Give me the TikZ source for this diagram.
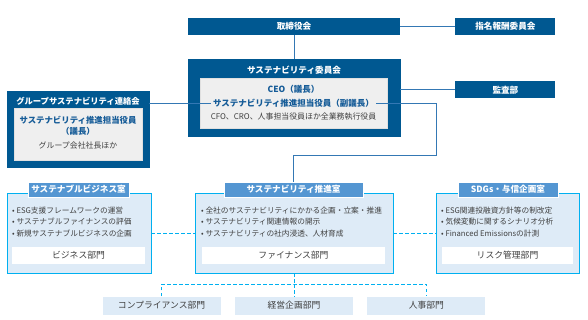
\documentclass[tikz,border=0pt]{standalone}
\usepackage{fontspec}
\setmainfont{Noto Sans CJK JP}
\usepackage{tikz}
\usetikzlibrary{positioning}
\definecolor{navy}{RGB}{0,88,145}
\definecolor{navytxt}{RGB}{22,92,152}
\definecolor{linkblue}{RGB}{52,120,180}
\definecolor{tabblue}{RGB}{84,150,210}
\definecolor{paleblue}{RGB}{222,235,247}
\definecolor{cyanline}{RGB}{0,176,240}
\definecolor{graytxt}{RGB}{64,64,64}
\definecolor{innergray}{RGB}{239,239,239}

\begin{document}
\begin{tikzpicture}[x=1pt, y=-1pt, inner sep=0pt, font=\fontsize{8.5}{10}\selectfont]
\tikzstyle{hdr}=[fill=navy, text=white, font=\fontsize{8.6}{10}\selectfont\bfseries, minimum height=17pt]
\tikzstyle{panel}=[fill=navy, draw=navy]
\tikzstyle{ptitle}=[text=white, font=\fontsize{8.6}{10}\selectfont\bfseries]
\tikzstyle{core}=[fill=innergray, draw=black!12]
\tikzstyle{lead}=[text=navytxt, font=\fontsize{8.5}{11}\selectfont\bfseries, align=center, inner xsep=2pt]
\tikzstyle{note}=[text=graytxt, font=\fontsize{7.9}{10}\selectfont]
\tikzstyle{room}=[fill=paleblue, draw=cyanline, line width=0.8pt, minimum height=80pt]
\tikzstyle{tab}=[fill=tabblue, draw=white, line width=0.8pt, text=white, font=\fontsize{8.6}{10}\selectfont\bfseries, minimum height=15pt]
\tikzstyle{bul}=[anchor=west, align=left, text=graytxt, font=\fontsize{7.7}{11.5}\selectfont]
\tikzstyle{unit}=[fill=white, text=graytxt, minimum height=17pt, font=\fontsize{8.8}{10}\selectfont]
\tikzstyle{dept}=[fill=paleblue, text=graytxt, minimum height=18pt, minimum width=118pt, font=\fontsize{8.8}{10}\selectfont]
\tikzstyle{link}=[draw=linkblue, line width=0.9pt]
\tikzstyle{dotlink}=[draw=cyanline, line width=0.7pt, dash pattern=on 3.5pt off 2.5pt]
\useasboundingbox (0,0) rectangle (588,320);

% board level
\node[hdr, minimum width=212pt] (board) at (294,26.5) {取締役会};
\node[hdr, minimum width=100pt, right=55pt of board] (nomcom) {指名報酬委員会};
\node[hdr, minimum width=100pt, below=46pt of nomcom] (audit) {監査部};

% sustainability committee
\node[panel, minimum width=212pt, minimum height=77pt] (cmte) at (294,97.5) {};
\node[ptitle] (cmtetitle) at (294,70) {サステナビリティ委員会};
\node[core, minimum width=187pt, minimum height=50pt] (cmtecore) at (293.5,103) {};
\node[lead] (chair) at (293.5,89) {CEO（議長）};
\node[lead] (vice) at (293.5,103) {サステナビリティ推進担当役員（副議長）};
\node[note] (members) at (293.5,117) {CFO、CRO、人事担当役員ほか全業務執行役員};

% group liaison
\node[panel, minimum width=142pt, minimum height=76pt] (grp) at (78,129) {};
\node[ptitle, font=\fontsize{8.3}{10}\selectfont\bfseries] (grptitle) at (78,101) {グループサステナビリティ連絡会};
\node[core, minimum width=128pt, minimum height=52pt] (grpcore) at (78,134) {};
\node[lead, font=\fontsize{8.4}{11}\selectfont\bfseries] (grplead) at (78,125.5) {サステナビリティ推進担当役員\\（議長）};
\node[note] (grpmembers) at (78,146) {グループ会社社長ほか};

% rooms
\node[room, minimum width=144pt] (biz) at (79,233) {};
\node[tab, minimum width=101pt] (biztab) at (78.5,189.5) {サステナブルビジネス室};
\node[bul] (bizlist) at (12,222) {• ESG支援フレームワークの運営\\• サステナブルファイナンスの評価\\• 新規サステナブルビジネスの企画};
\node[unit, minimum width=133pt] (bizunit) at (78.5,255.5) {ビジネス部門};

\node[room, minimum width=198pt] (promo) at (294,233) {};
\node[tab, minimum width=139pt] (promotab) at (293.5,189.5) {サステナビリティ推進室};
\node[bul] (promolist) at (201,222) {• 全社のサステナビリティにかかる企画・立案・推進\\• サステナビリティ関連情報の開示\\• サステナビリティの社内浸透、人材育成};
\node[unit, minimum width=183pt] (promounit) at (293.5,255.5) {ファイナンス部門};

\node[room, minimum width=143pt] (risk) at (507.5,233) {};
\node[tab, minimum width=100pt] (risktab) at (508,189.5) {SDGs・与信企画室};
\node[bul] (risklist) at (441,222) {• ESG関連投融資方針等の制改定\\• 気候変動に関するシナリオ分析\\• Financed Emissionsの計測};
\node[unit, minimum width=131pt] (riskunit) at (507.5,255.5) {リスク管理部門};

% departments
\node[dept, below=23pt of promo] (plan) {経営企画部門};
\node[dept, left=14pt of plan] (comp) {コンプライアンス部門};
\node[dept, right=14pt of plan] (hr) {人事部門};

% solid links
\draw[link] (board) -- (nomcom);
\draw[link] (board) -- (cmte);
\draw[link] (cmte.east |- audit) -- (audit);
\draw[link] (grp.east |- vice) -- (vice.west);
\coordinate (turn) at (436,155);
\draw[link] (vice.east) -| (turn) -| (promotab.north);

% dashed links
\coordinate (split) at (294,284);
\draw[dotlink] (biz) -- (promo);
\draw[dotlink] (promo) -- (risk);
\draw[dotlink] (promo.south) -- (split);
\draw[dotlink] (comp.north) |- (split) -| (hr.north);
\draw[dotlink] (split) -- (plan.north);
\end{tikzpicture}
\end{document}
